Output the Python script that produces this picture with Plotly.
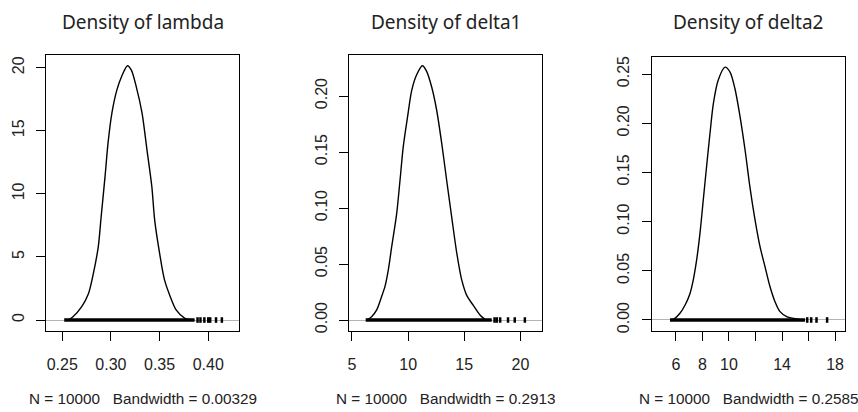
import plotly.graph_objects as go

W, H = 858, 412

# ---- data ----
titles = ["Density of lambda", "Density of delta1", "Density of delta2"]
subtitles = ["N = 10000   Bandwidth = 0.00329",
             "N = 10000   Bandwidth = 0.2913",
             "N = 10000   Bandwidth = 0.2585"]

lambda_x = [0.256, 0.261, 0.270, 0.277, 0.282, 0.287, 0.290, 0.294, 0.297, 0.301,
            0.306, 0.311, 0.317, 0.321, 0.326, 0.332, 0.337, 0.342, 0.345, 0.350,
            0.355, 0.361, 0.367, 0.376, 0.383]
lambda_y = [0.0, 0.26, 1.06, 2.1, 3.7, 5.8, 8.2, 11.4, 14.0, 16.4,
            18.2, 19.3, 20.15, 19.8, 18.5, 16.4, 13.5, 10.6, 7.9, 5.3,
            3.2, 1.85, 0.8, 0.13, 0.0]

delta1_x = [6.31, 6.75, 7.20, 7.64, 7.94, 8.24, 8.53, 8.98, 9.28, 9.57,
            9.96, 10.32, 10.76, 11.27, 11.65, 12.10, 12.54, 12.99, 13.43, 13.88,
            14.33, 14.77, 15.22, 15.81, 16.40, 16.85]
delta1_y = [0.0, 0.003, 0.009, 0.021, 0.030, 0.045, 0.065, 0.095, 0.125, 0.155,
            0.182, 0.205, 0.219, 0.227, 0.222, 0.208, 0.1875, 0.158, 0.125, 0.092,
            0.060, 0.036, 0.022, 0.013, 0.0045, 0.0006]

delta2_x = [5.67, 5.92, 6.30, 6.68, 7.06, 7.31, 7.56, 7.81, 8.06, 8.31,
            8.57, 8.82, 9.19, 9.70, 10.08, 10.45, 10.83, 11.21, 11.58, 11.96,
            12.34, 12.72, 13.09, 13.47, 13.85, 14.35, 15.10, 15.60]
delta2_y = [0.0, 0.0017, 0.0068, 0.015, 0.027, 0.041, 0.061, 0.088, 0.122, 0.156,
            0.190, 0.220, 0.244, 0.257, 0.252, 0.235, 0.207, 0.173, 0.135, 0.102,
            0.0745, 0.054, 0.034, 0.0186, 0.0085, 0.0034, 0.001, 0.0]

# rug: dense span (min, max) plus sparse tail values
lambda_rug_span = [0.252, 0.386]
lambda_rug_tail = [0.389, 0.392, 0.396, 0.400, 0.402, 0.408, 0.414]
delta1_rug_span = [6.22, 17.45]
delta1_rug_tail = [17.7, 17.9, 18.2, 18.9, 19.5, 20.4]
delta2_rug_span = [5.55, 15.74]
delta2_rug_tail = [15.9, 16.2, 16.6, 17.4]

x_ticks = [[0.25, 0.30, 0.35, 0.40], [5, 10, 15, 20], [6, 8, 10, 12, 14, 16, 18]]
x_ticktext = [["0.25", "0.30", "0.35", "0.40"], ["5", "10", "15", "20"],
              ["6", "8", "10", "", "14", "", "18"]]
y_ticks = [[0, 5, 10, 15, 20], [0, 0.05, 0.10, 0.15, 0.20],
           [0, 0.05, 0.10, 0.15, 0.20, 0.25]]
y_ticktext = [["0", "5", "10", "15", "20"],
              ["0.00", "0.05", "0.10", "0.15", "0.20"],
              ["0.00", "0.05", "0.10", "0.15", "0.20", "0.25"]]

x_ranges = [[0.2333, 0.4316], [4.76, 21.9], [4.17, 18.75]]
y_ranges = [[-0.87, 21.0], [-0.0098, 0.2366], [-0.0112, 0.2676]]

# ---- layout geometry (pixels) ----
boxes = [(46, 239, 55, 331), (349.3, 541.7, 55, 331), (651.7, 845, 56.7, 331)]

curves = [(lambda_x, lambda_y), (delta1_x, delta1_y), (delta2_x, delta2_y)]
rug_spans = [lambda_rug_span, delta1_rug_span, delta2_rug_span]
rug_tails = [lambda_rug_tail, delta1_rug_tail, delta2_rug_tail]

TXT = "#222222"
TICKFONT = dict(family="Liberation Sans, Arial, sans-serif", size=16, color=TXT)

fig = go.Figure()
layout = dict(width=W, height=H, margin=dict(l=0, r=0, t=0, b=0),
              paper_bgcolor="white", plot_bgcolor="white", showlegend=False,
              annotations=[])

for i in range(3):
    sfx = "" if i == 0 else str(i + 1)
    xa, ya = "x" + sfx, "y" + sfx
    cx, cy = curves[i]
    fig.add_trace(go.Scatter(x=rug_spans[i], y=[0, 0], xaxis=xa, yaxis=ya,
                             mode="lines", line=dict(color="black", width=3.5),
                             hoverinfo="skip"))
    fig.add_trace(go.Scatter(x=rug_tails[i], y=[0] * len(rug_tails[i]), xaxis=xa, yaxis=ya,
                             mode="markers",
                             marker=dict(symbol="line-ns", size=4,
                                         line=dict(color="black", width=2.5)),
                             hoverinfo="skip"))
    fig.add_trace(go.Scatter(x=cx, y=cy, xaxis=xa, yaxis=ya, mode="lines",
                             line=dict(color="black", width=1.4, shape="spline",
                                       smoothing=0.8)))

    x0, x1, yt, yb = boxes[i]
    common = dict(showline=True, mirror=True, linecolor="black", linewidth=1,
                  ticks="outside", ticklen=9, tickwidth=1, tickcolor="black",
                  showgrid=False, tickfont=TICKFONT, fixedrange=True, automargin=False)
    layout["xaxis" + sfx] = dict(domain=[x0 / W, x1 / W], range=x_ranges[i],
                                 anchor=ya, tickmode="array", tickvals=x_ticks[i],
                                 ticktext=x_ticktext[i], zeroline=False,
                                 ticklabelstandoff=10, **common)
    layout["yaxis" + sfx] = dict(domain=[1 - yb / H, 1 - yt / H], range=y_ranges[i],
                                 anchor=xa, tickmode="array", tickvals=y_ticks[i],
                                 ticktext=y_ticktext[i], tickangle=-90,
                                 zeroline=True, zerolinecolor="#b4b4b4", zerolinewidth=1,
                                 ticklabelstandoff=6, **common)
    xc = (x0 + x1) / 2 / W
    layout["annotations"].append(dict(text=titles[i], xref="paper", yref="paper",
                                      x=xc, y=1 - 22 / H, xanchor="center", yanchor="middle",
                                      showarrow=False,
                                      font=dict(family="Noto Sans, Open Sans, sans-serif",
                                                size=19, color=TXT)))
    layout["annotations"].append(dict(text=subtitles[i], xref="paper", yref="paper",
                                      x=xc, y=1 - 398 / H, xanchor="center", yanchor="middle",
                                      showarrow=False,
                                      font=dict(family="Liberation Sans, Arial, sans-serif",
                                                size=15.3, color=TXT)))

fig.update_layout(**layout)
fig.write_html("out.html", config={"displayModeBar": False},
               post_script="document.body.style.margin='0';document.body.style.overflow='hidden';")
